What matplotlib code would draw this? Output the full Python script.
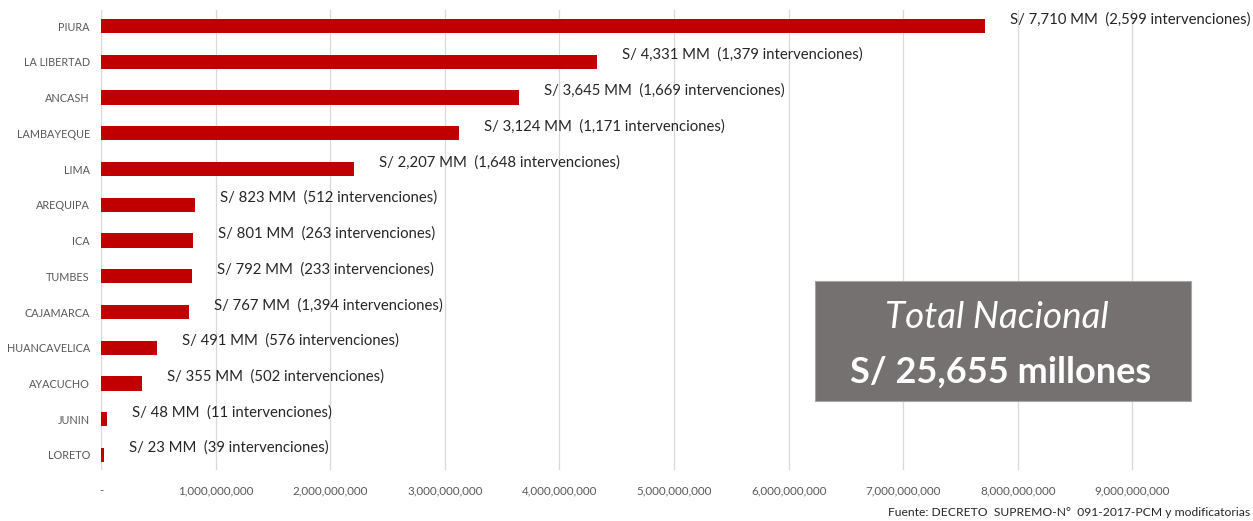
import matplotlib
matplotlib.use("Agg")
import matplotlib.pyplot as plt
from matplotlib.ticker import FuncFormatter

regions = ["PIURA", "LA LIBERTAD", "ANCASH", "LAMBAYEQUE", "LIMA", "AREQUIPA", "ICA",
           "TUMBES", "CAJAMARCA", "HUANCAVELICA", "AYACUCHO", "JUNIN", "LORETO"]
amount_mm = [7710, 4331, 3645, 3124, 2207, 823, 801, 792, 767, 491, 355, 48, 23]
interventions = [2599, 1379, 1669, 1171, 1648, 512, 263, 233, 1394, 576, 502, 11, 39]
xticks = [0, 1e9, 2e9, 3e9, 4e9, 5e9, 6e9, 7e9, 8e9, 9e9]
total_mm = 25655

plt.rcParams['font.family'] = ['Lato', 'DejaVu Sans']

fig = plt.figure(figsize=(12.53, 5.21), dpi=100)
ax = fig.add_axes([101/1253, 1 - 470/521, 1146/1253, 460/521])

values = [v * 1e6 for v in amount_mm]
ypos = list(range(len(regions)))
ax.barh(ypos, values, height=0.40, color="#c00000", zorder=3)

ax.set_xlim(0, 10e9)
ax.set_ylim(12.42, -0.45)
ax.set_xticks(xticks)
ax.xaxis.set_major_formatter(FuncFormatter(lambda v, p: "-" if v == 0 else f"{v:,.0f}"))
ax.set_yticks(ypos)
ax.set_yticklabels(regions)
ax.tick_params(axis="x", length=0, pad=11, labelsize=8.4, labelcolor="#595959")
ax.tick_params(axis="y", length=0, pad=8, labelsize=7.8, labelcolor="#595959")
ax.grid(axis="x", color="#d9d9d9", linewidth=0.9, zorder=0)
for s in ax.spines.values():
    s.set_visible(False)

for y, v, mm, n in zip(ypos, values, amount_mm, interventions):
    ax.annotate(f"S/ {mm:,} MM  ({n:,} intervenciones)", xy=(v, y),
                xytext=(18, 5), textcoords="offset points",
                ha="left", va="center", fontsize=10.7, color="#262626")

# Total box
fig.patches.append(plt.Rectangle((815/1253, 1 - 401/521), 376/1253, 120/521,
                                 transform=fig.transFigure, facecolor="#767171",
                                 edgecolor="#a6a6a6", linewidth=0.8, zorder=5))
fig.text(997/1253, 1 - 317/521, "Total Nacional", ha="center", va="center",
         fontsize=26.5, style="italic", color="white", zorder=6)
fig.text(1001/1253, 1 - 372/521, f"S/ {total_mm:,} millones", ha="center", va="center",
         fontsize=26, fontweight="bold", color="white", zorder=6)

fig.text(1250/1253, 1 - 513/521, "Fuente: DECRETO  SUPREMO-N°  091-2017-PCM y modificatorias",
         ha="right", va="center", fontsize=8.7, color="#262626")

fig.savefig("out.png", dpi=100, facecolor="white")
